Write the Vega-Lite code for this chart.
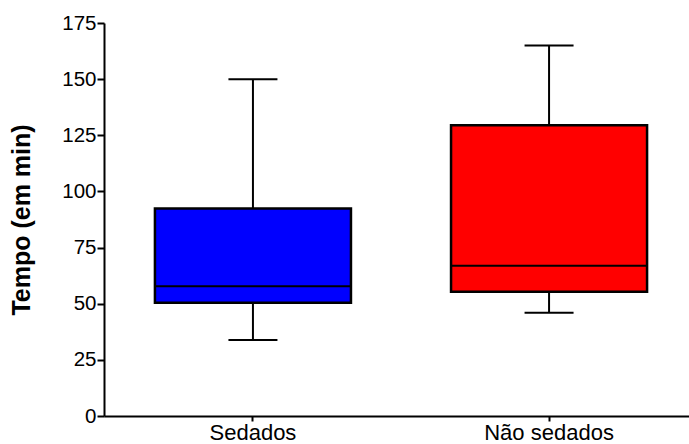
{
  "$schema": "https://vega.github.io/schema/vega-lite/v6.json",
  "autosize": "none",
  "width": 582,
  "height": 393,
  "padding": {"left": 104, "top": 23, "right": 3, "bottom": 28},
  "background": "white",
  "config": {
    "view": {"stroke": null},
    "font": "Liberation Sans",
    "axis": {
      "domainColor": "black",
      "domainWidth": 2,
      "tickColor": "black",
      "tickWidth": 2,
      "labelColor": "black",
      "titleColor": "black",
      "labelFont": "Liberation Sans",
      "titleFont": "Liberation Sans",
      "grid": false
    }
  },
  "data": {
    "values": [
      {"grupo": "Sedados", "min": 33.8, "q1": 50.4, "mediana": 57.8, "q3": 92.4, "max": 150},
      {"grupo": "Não sedados", "min": 46, "q1": 55.3, "mediana": 66.9, "q3": 129.5, "max": 165}
    ]
  },
  "encoding": {
    "x": {
      "field": "grupo",
      "type": "nominal",
      "sort": ["Sedados", "Não sedados"],
      "scale": {"paddingInner": 0.338, "paddingOuter": 0.172, "range": [0, 594]},
      "axis": {
        "title": null,
        "labelAngle": 0,
        "labelFontSize": 22,
        "tickSize": 5,
        "labelPadding": 1
      }
    }
  },
  "layer": [
    {
      "mark": {"type": "rule", "color": "black", "strokeWidth": 2},
      "encoding": {
        "y": {
          "field": "min",
          "type": "quantitative",
          "scale": {"domain": [0, 175], "nice": false},
          "axis": {
            "title": "Tempo (em min)",
            "titleFontSize": 25,
            "titleFontWeight": "bold",
            "titlePadding": 27,
            "labelFontSize": 20.5,
            "values": [0, 25, 50, 75, 100, 125, 150, 175],
            "tickSize": 7,
            "labelPadding": 1
          }
        },
        "y2": {"field": "q1"}
      }
    },
    {
      "mark": {"type": "rule", "color": "black", "strokeWidth": 2},
      "encoding": {
        "y": {"field": "q3", "type": "quantitative"},
        "y2": {"field": "max"}
      }
    },
    {
      "mark": {"type": "bar", "stroke": "black", "strokeWidth": 2.5, "opacity": 1},
      "encoding": {
        "y": {"field": "q1", "type": "quantitative"},
        "y2": {"field": "q3"},
        "color": {
          "field": "grupo",
          "type": "nominal",
          "scale": {"domain": ["Sedados", "Não sedados"], "range": ["#0000FF", "#FF0000"]},
          "legend": null
        }
      }
    },
    {
      "mark": {"type": "tick", "color": "black", "size": 196, "thickness": 2, "opacity": 1},
      "encoding": {
        "y": {"field": "mediana", "type": "quantitative"}
      }
    },
    {
      "mark": {"type": "tick", "color": "black", "size": 49, "thickness": 2, "opacity": 1},
      "encoding": {
        "y": {"field": "min", "type": "quantitative"}
      }
    },
    {
      "mark": {"type": "tick", "color": "black", "size": 49, "thickness": 2, "opacity": 1},
      "encoding": {
        "y": {"field": "max", "type": "quantitative"}
      }
    }
  ]
}
